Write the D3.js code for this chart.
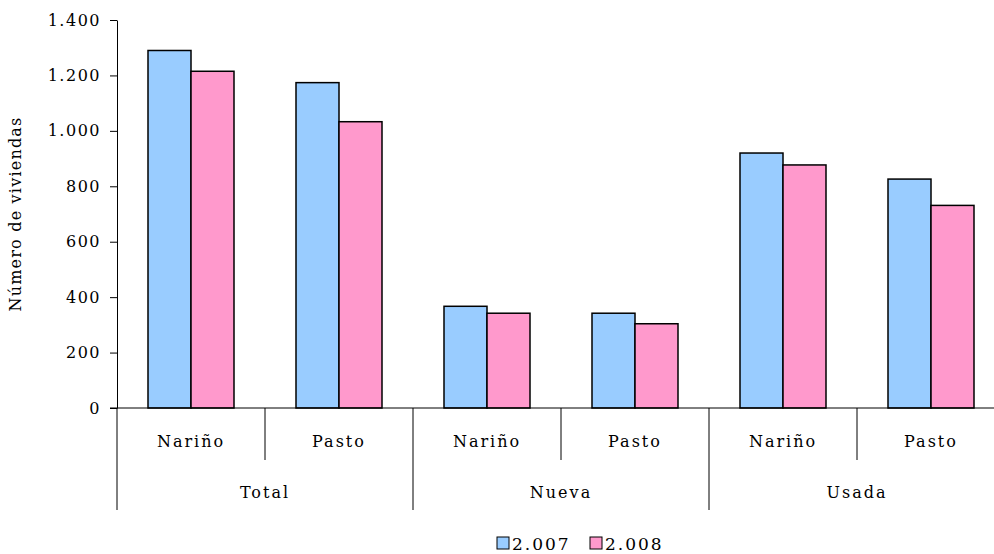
<!DOCTYPE html>
<meta charset="utf-8">
<script src="https://d3js.org/d3.v7.min.js"></script>
<style>
  body { margin: 0; background: #fff; }
  text { font-family: "DejaVu Serif", serif; fill: #000; }
</style>
<div id="chart"></div>
<script>
  // datos
  var groups = ["Total", "Nueva", "Usada"];
  var places = ["Nariño", "Pasto"];
  var series = ["2.007", "2.008"];
  var values2007 = [1290, 1174, 367, 342, 920, 826];
  var values2008 = [1215, 1033, 342, 304, 877, 731];
  var yTicks = [0, 200, 400, 600, 800, 1000, 1200, 1400];
  var colors = ["#99CCFF", "#FF99CC"];

  var W = 994, H = 554;
  var margin = {top: 20, left: 117, bottom: 146};
  var plotRight = 1005;

  var svg = d3.select("#chart").append("svg")
    .attr("width", W).attr("height", H);

  // one band per group/place pair
  var cats = [];
  groups.forEach(function(g) {
    places.forEach(function(p) { cats.push({group: g, place: p, key: g + "|" + p}); });
  });

  var x = d3.scaleBand()
    .domain(cats.map(function(d) { return d.key; }))
    .range([margin.left, plotRight]);

  var barW = 43;
  var xs = d3.scaleBand().domain(series).range([0, barW * 2]);

  var y = d3.scaleLinear()
    .domain([0, 1400])
    .range([H - margin.bottom, margin.top]);

  var fmt = d3.formatLocale({decimal: ",", thousands: ".", grouping: [3], currency: ["$", ""]}).format(",d");

  // y axis
  var yAxis = svg.append("g")
    .attr("transform", "translate(" + margin.left + ",0)")
    .call(d3.axisLeft(y).tickValues(yTicks).tickFormat(fmt).tickSize(7).tickSizeOuter(0).tickPadding(9));
  yAxis.select(".domain").attr("stroke", "#000");
  yAxis.selectAll(".tick line").attr("stroke", "#000");
  yAxis.selectAll("text")
    .style("font-family", "DejaVu Serif").style("font-size", "16px")
    .style("letter-spacing", "1.5px").attr("fill", "#000");

  svg.append("text")
    .attr("transform", "translate(21," + ((margin.top + y(0)) / 2) + ") rotate(-90)")
    .attr("text-anchor", "middle")
    .style("font-size", "16px")
    .style("letter-spacing", "1.2px")
    .text("Número de viviendas");

  // bars
  var rows = cats.map(function(c, i) {
    return {key: c.key, vals: [values2007[i], values2008[i]]};
  });

  var gBars = svg.append("g");
  rows.forEach(function(r) {
    var x0 = x(r.key) + (x.bandwidth() - barW * 2) / 2;
    gBars.selectAll(null)
      .data(r.vals)
      .enter()
      .append("rect")
        .attr("x", function(d, i) { return x0 + xs(series[i]); })
        .attr("y", function(d) { return y(d); })
        .attr("width", xs.bandwidth())
        .attr("height", function(d) { return y(0) - y(d); })
        .attr("fill", function(d, i) { return colors[i]; })
        .attr("stroke", "#000")
        .attr("stroke-width", 1.5);
  });

  // category axis
  var y0 = y(0);
  svg.append("line")
    .attr("x1", margin.left - 7).attr("x2", plotRight)
    .attr("y1", y0).attr("y2", y0)
    .attr("stroke", "#000");

  cats.forEach(function(c, i) {
    var left = x(c.key);
    var tall = (i % 2 === 0);
    svg.append("line")
      .attr("x1", left).attr("x2", left)
      .attr("y1", y0).attr("y2", tall ? 510 : 460)
      .attr("stroke", "#000");
    svg.append("text")
      .attr("x", left + x.bandwidth() / 2)
      .attr("y", 447)
      .attr("text-anchor", "middle")
      .style("font-size", "16px")
      .style("letter-spacing", "2px")
      .text(c.place);
  });
  svg.append("line")
    .attr("x1", plotRight).attr("x2", plotRight)
    .attr("y1", y0).attr("y2", 510)
    .attr("stroke", "#000");

  groups.forEach(function(g) {
    var left = x(g + "|" + places[0]);
    svg.append("text")
      .attr("x", left + x.bandwidth())
      .attr("y", 498)
      .attr("text-anchor", "middle")
      .style("font-size", "16px")
      .style("letter-spacing", "2px")
      .text(g);
  });

  // legend
  var legendX = [497, 590];
  series.forEach(function(s, i) {
    svg.append("rect")
      .attr("x", legendX[i]).attr("y", 537)
      .attr("width", 12).attr("height", 12)
      .attr("fill", colors[i]).attr("stroke", "#000").attr("stroke-width", 1);
    svg.append("text")
      .attr("x", legendX[i] + 15).attr("y", 550)
      .style("font-size", "17px")
      .style("letter-spacing", "2px")
      .text(s);
  });
</script>
